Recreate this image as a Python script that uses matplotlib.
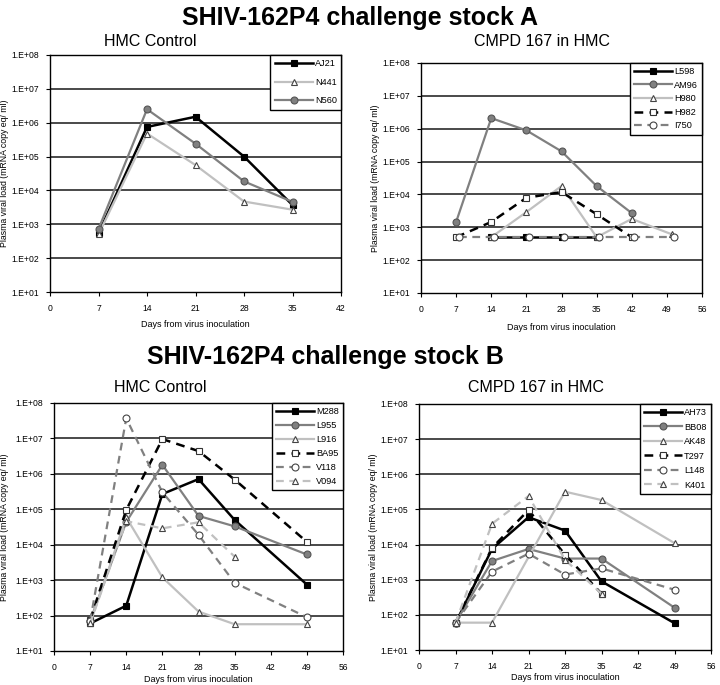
import matplotlib
matplotlib.use("Agg")
import matplotlib.pyplot as plt
import numpy as np

plt.rcParams["font.family"] = ["Liberation Sans", "DejaVu Sans"]

# ---- stock A, HMC control ----
a_ctrl_days = [7, 14, 21, 28, 35]
AJ21 = [5.4e2, 7.5e5, 1.5e6, 1.0e5, 3.7e3]
N441 = [5.0e2, 4.8e5, 5.6e4, 4.7e3, 2.7e3]
N560 = [7.2e2, 2.5e6, 2.4e5, 1.85e4, 4.6e3]

# ---- stock A, CMPD 167 in HMC ----
L598_days = [14, 21, 28, 35]
L598 = [5e2, 5e2, 5e2, 5e2]
AM96_days = [7, 14, 21, 28, 35, 42]
AM96 = [1.45e3, 2.1e6, 8.9e5, 2.05e5, 1.8e4, 2.7e3]
H980_days = [14, 21, 28, 35, 42, 50]
H980 = [5e2, 2.9e3, 1.8e4, 5e2, 1.8e3, 6.1e2]
H982_days = [7, 14, 21, 28, 35, 42]
H982 = [5e2, 1.45e3, 7.9e3, 1.18e4, 2.5e3, 5e2]
I750_days = [7.5, 14.5, 21.5, 28.5, 35.5, 42.5, 50.5]
I750 = [5e2, 5e2, 5e2, 5e2, 5e2, 5e2, 5e2]

# ---- stock B, HMC control ----
b_days = [7, 14, 21, 28, 35, 49]
M288 = [6.0e1, 1.9e2, 2.7e5, 7.1e5, 5.0e4, 7.5e2]
L955 = [7.0e1, 4.4e4, 1.8e6, 6.5e4, 3.3e4, 5.3e3]
L916 = [6.0e1, 5.9e4, 1.2e3, 1.3e2, 5.7e1, 5.7e1]
BA95 = [7.5e1, 9.6e4, 9.6e6, 4.4e6, 6.9e5, 1.2e4]
V118 = [7.0e1, 3.7e7, 3.0e5, 1.9e4, 8.4e2, 9.0e1]
V094_days = [7, 14, 21, 28, 35]
V094 = [6.0e1, 4.6e4, 2.9e4, 4.3e4, 4.6e3]

# ---- stock B, CMPD 167 in HMC ----
AH73 = [5.8e1, 7.5e3, 6.0e4, 2.5e4, 9.0e2, 5.8e1]
BB08 = [6.0e1, 3.4e3, 7.5e3, 4.0e3, 4.0e3, 1.6e2]
AK48_days = [7, 14, 28, 35, 49]
AK48 = [6.0e1, 6.0e1, 3.2e5, 1.85e5, 1.1e4]
T297_days = [7, 14, 21, 28, 35]
T297 = [6.0e1, 8.0e3, 9.6e4, 5.2e3, 4.0e2]
L148 = [6.0e1, 1.7e3, 5.5e3, 1.4e3, 2.1e3, 5.2e2]
K401_days = [7, 14, 21, 28, 35]
K401 = [6.0e1, 3.9e4, 2.4e5, 3.7e3, 4.0e2]

BLACK = "#000000"
GRAY = "#808080"
LIGHT = "#c0c0c0"

# style per kind of series
solid_black = dict(color=BLACK, ls="-", lw=1.8, marker="s", mfc=BLACK, mec=BLACK)
solid_gray = dict(color=GRAY, ls="-", lw=1.6, marker="o", mfc=GRAY, mec="#555555")
solid_light = dict(color=LIGHT, ls="-", lw=1.6, marker="^", mfc="white", mec="#444444")
dash_black = dict(color=BLACK, ls=(0, (3.5, 2.5)), lw=1.8, marker="s", mfc="white", mec="#333333")
dash_gray = dict(color=GRAY, ls=(0, (3.5, 2.5)), lw=1.6, marker="o", mfc="white", mec="#444444")
dash_light = dict(color=LIGHT, ls=(0, (3.5, 2.5)), lw=1.6, marker="^", mfc="white", mec="#444444")

panels = [
    dict(rect=[50, 55, 341, 292], xmax=42, title="HMC Control", tx=150, ty=42,
         series=[("AJ21", a_ctrl_days, AJ21, solid_black),
                 ("N441", a_ctrl_days, N441, solid_light),
                 ("N560", a_ctrl_days, N560, solid_gray)],
         ylx=5, xly=324, lsp=1.05),
    dict(rect=[421, 63, 702, 293], xmax=56, title="CMPD 167 in HMC", tx=542, ty=42,
         series=[("L598", L598_days, L598, solid_black),
                 ("AM96", AM96_days, AM96, solid_gray),
                 ("H980", H980_days, H980, solid_light),
                 ("H982", H982_days, H982, dash_black),
                 ("I750", I750_days, I750, dash_gray)],
         ylx=375, xly=328, lsp=0.5),
    dict(rect=[54, 403, 343, 651], xmax=56, title="HMC Control", tx=160, ty=388,
         series=[("M288", b_days, M288, solid_black),
                 ("L955", b_days, L955, solid_gray),
                 ("L916", b_days, L916, solid_light),
                 ("BA95", b_days, BA95, dash_black),
                 ("V118", b_days, V118, dash_gray),
                 ("V094", V094_days, V094, dash_light)],
         ylx=5, xly=679, lsp=0.55),
    dict(rect=[419, 404, 711, 650], xmax=56, title="CMPD 167 in HMC", tx=536, ty=388,
         series=[("AH73", b_days, AH73, solid_black),
                 ("BB08", b_days, BB08, solid_gray),
                 ("AK48", AK48_days, AK48, solid_light),
                 ("T297", T297_days, T297, dash_black),
                 ("L148", b_days, L148, dash_gray),
                 ("K401", K401_days, K401, dash_light)],
         ylx=373, xly=678, lsp=0.6),
]

W, H = 720, 685
fig = plt.figure(figsize=(W / 100, H / 100), dpi=100)

fig.text(360 / W, 1 - 18 / H, "SHIV-162P4 challenge stock A", ha="center", va="center",
         fontsize=18, fontweight="bold")
fig.text(325 / W, 1 - 357 / H, "SHIV-162P4 challenge stock B", ha="center", va="center",
         fontsize=18, fontweight="bold")

yticks = [1e1, 1e2, 1e3, 1e4, 1e5, 1e6, 1e7, 1e8]
ylabels = ["1.E+01", "1.E+02", "1.E+03", "1.E+04", "1.E+05", "1.E+06", "1.E+07", "1.E+08"]

for p in panels:
    x0, y0, x1, y1 = p["rect"]
    ax = fig.add_axes([x0 / W, 1 - y1 / H, (x1 - x0) / W, (y1 - y0) / H])
    ax.set_yscale("log")
    ax.set_ylim(1e1, 1e8)
    ax.set_xlim(0, p["xmax"])
    ax.set_yticks(yticks)
    ax.set_yticklabels(ylabels)
    ax.minorticks_off()
    ax.set_xticks(np.arange(0, p["xmax"] + 1, 7))
    ax.tick_params(labelsize=6.2, length=3, width=0.8)
    ax.tick_params(axis="x", pad=5.5)
    ax.tick_params(axis="y", pad=5)
    for t in yticks[1:-1]:
        ax.axhline(t, color="#3a3a3a", lw=1.3, zorder=1)
    for s in ax.spines.values():
        s.set_color(BLACK)
        s.set_linewidth(1.0)

    for name, d, v, st in p["series"]:
        ax.plot(d, v, label=name, ms=5, mew=0.8, zorder=3, **st)

    leg = ax.legend(loc="upper right", borderaxespad=0, fancybox=False, fontsize=6.6,
                    handlelength=4.2, handletextpad=0.2, labelspacing=p["lsp"],
                    borderpad=0.45, framealpha=1)
    leg.get_frame().set_edgecolor(BLACK)
    leg.get_frame().set_linewidth(1.0)
    leg.set_zorder(5)

    fig.text(p["tx"] / W, 1 - p["ty"] / H, p["title"], ha="center", va="center", fontsize=11.5)
    fig.text(p["ylx"] / W, 1 - ((y0 + y1) / 2) / H, "Plasma viral load (mRNA copy eq/ ml)",
             rotation=90, ha="center", va="center", fontsize=6.3)
    fig.text(((x0 + x1) / 2) / W, 1 - p["xly"] / H, "Days from virus inoculation",
             ha="center", va="center", fontsize=6.5)

fig.savefig("out.png", dpi=100, facecolor="white")
